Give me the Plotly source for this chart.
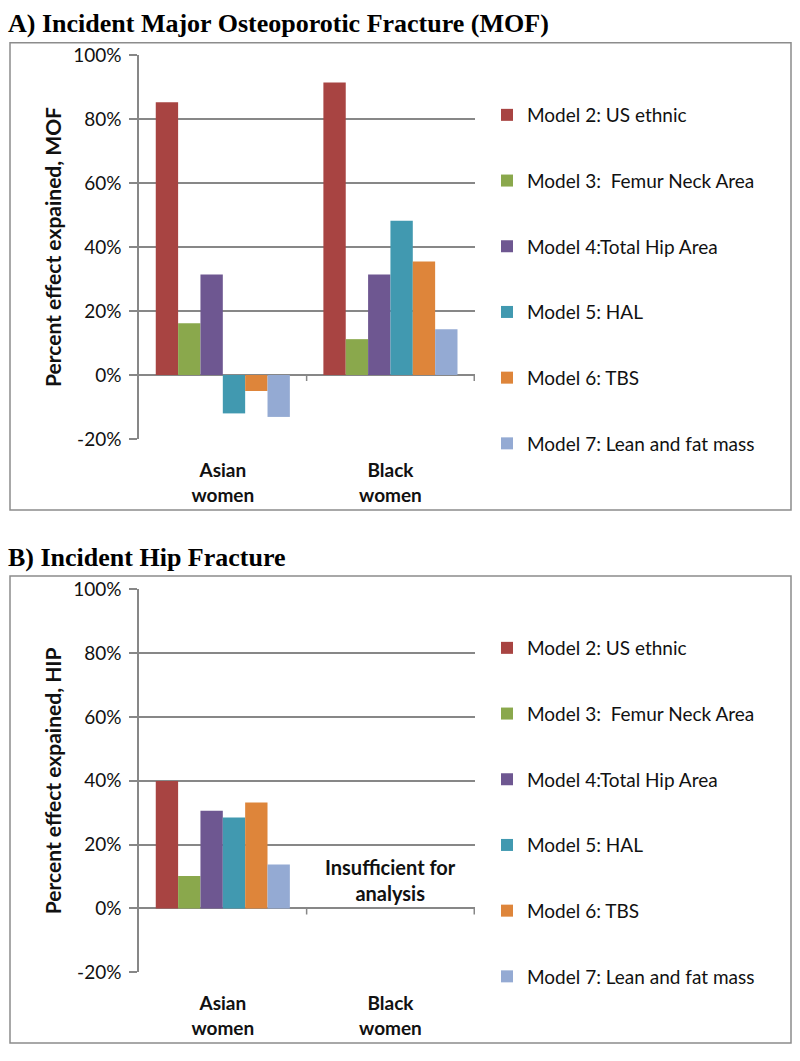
import plotly.graph_objects as go

# ---------------- data ----------------
categories = ["Asian women", "Black women"]
cat_labels = ["<b>Asian<br>women</b>", "<b>Black<br>women</b>"]
models = [
    "Model 2: US ethnic",
    "Model 3:  Femur Neck Area",
    "Model 4:Total Hip Area",
    "Model 5: HAL",
    "Model 6: TBS",
    "Model 7: Lean and fat mass",
]
colors = ["#A84442", "#8AA84C", "#6E5791", "#4199B0", "#DE853A", "#94AAD3"]

# Panel A: Incident MOF (percent effect explained)
mof_model2 = [85.2, 91.4]
mof_model3 = [16.2, 11.2]
mof_model4 = [31.4, 31.4]
mof_model5 = [-12.0, 48.2]
mof_model6 = [-5.0, 35.5]
mof_model7 = [-13.1, 14.3]

# Panel B: Incident hip fracture (Black women: insufficient for analysis)
hip_model2 = [39.9, None]
hip_model3 = [10.2, None]
hip_model4 = [30.6, None]
hip_model5 = [28.5, None]
hip_model6 = [33.2, None]
hip_model7 = [13.8, None]

mof_series = [mof_model2, mof_model3, mof_model4, mof_model5, mof_model6, mof_model7]
hip_series = [hip_model2, hip_model3, hip_model4, hip_model5, hip_model6, hip_model7]

y_ticks = [-20, 0, 20, 40, 60, 80, 100]
y_ticktext = [f"{v}%" for v in y_ticks]

# ---------------- layout helpers ----------------
W, H = 800, 1061
def fx(px):
    return px / W
def fy(py):
    return 1 - py / H

GRID = "#878787"
TXT = "#111111"
SANS = "Lato, 'Open Sans', sans-serif"
SERIF = "'Liberation Serif', 'Times New Roman', serif"

fig = go.Figure()

for i, (name, col) in enumerate(zip(models, colors)):
    fig.add_trace(go.Bar(
        x=categories, y=mof_series[i], name=name, marker_color=col,
        marker_line_width=0, xaxis="x", yaxis="y", legend="legend",
        legendgroup=f"a{i}",
    ))
for i, (name, col) in enumerate(zip(models, colors)):
    fig.add_trace(go.Bar(
        x=categories, y=hip_series[i], name=name, marker_color=col,
        marker_line_width=0, xaxis="x2", yaxis="y2", legend="legend2",
        legendgroup=f"b{i}",
    ))

def yaxis_cfg(domain, title):
    return dict(
        domain=domain, range=[-20, 100], tickvals=y_ticks, ticktext=y_ticktext,
        automargin=False,
        showgrid=True, gridcolor=GRID, gridwidth=1.5,
        zeroline=True, zerolinecolor=GRID, zerolinewidth=1.5,
        showline=True, linecolor=GRID, linewidth=1.5,
        ticks="outside", ticklen=8, tickwidth=1.5, tickcolor=GRID,
        tickfont=dict(family=SANS, size=19, color=TXT),
        ticklabelstandoff=4,
        title=dict(text=f"<b>{title}</b>", font=dict(family=SANS, size=21, color=TXT), standoff=6),
        fixedrange=True,
    )

def xaxis_cfg(anchor):
    return dict(
        domain=[fx(139), fx(475)], anchor=anchor, type="category",
        automargin=False,
        categoryorder="array", categoryarray=categories,
        tickvals=categories, ticktext=cat_labels,
        tickfont=dict(family=SANS, size=19, color=TXT),
        showgrid=False, zeroline=False, showline=False, ticks="",
        ticklabelstandoff=18, fixedrange=True,
    )

legend_common = dict(
    xanchor="left", yanchor="top", bgcolor="rgba(0,0,0,0)", borderwidth=0,
    font=dict(family=SANS, size=19, color=TXT), tracegroupgap=38,
    itemclick=False, itemdoubleclick=False,
)

fig.update_layout(
    width=W, height=H,
    margin=dict(l=0, r=0, t=0, b=0, autoexpand=False),
    paper_bgcolor="white", plot_bgcolor="white",
    barmode="group", bargap=0.2, bargroupgap=0,
    xaxis=xaxis_cfg("y"),
    yaxis=yaxis_cfg([fy(439), fy(55)], "Percent effect expained, MOF"),
    xaxis2=xaxis_cfg("y2"),
    yaxis2=yaxis_cfg([fy(972.3), fy(589.3)], "Percent effect expained, HIP"),
    legend=dict(x=fx(487), y=fy(96), **legend_common),
    legend2=dict(x=fx(487), y=fy(629), **legend_common),
    showlegend=True,
)

# panel frames
for top, bottom in [(42.7, 510), (576, 1043)]:
    fig.add_shape(type="rect", xref="paper", yref="paper",
                  x0=fx(10), x1=fx(791), y0=fy(bottom), y1=fy(top),
                  line=dict(color="#8C8C8C", width=1.5), layer="below")

# category-boundary tick marks on the 0% axis
for xr, yr in [("x", "y"), ("x2", "y2")]:
    for xb in [0.5, 1.5]:
        fig.add_shape(type="line", xref=xr, yref=yr, x0=xb, x1=xb,
                      ysizemode="pixel", yanchor=0, y0=0, y1=-6,
                      line=dict(color=GRID, width=1.5))

# panel titles
fig.add_annotation(text="<b>A) Incident Major Osteoporotic Fracture (MOF)</b>",
                   xref="paper", yref="paper", x=fx(6), y=fy(24),
                   xanchor="left", yanchor="middle", showarrow=False,
                   font=dict(family=SERIF, size=26, color="black"))
fig.add_annotation(text="<b>B) Incident Hip Fracture</b>",
                   xref="paper", yref="paper", x=fx(6), y=fy(557),
                   xanchor="left", yanchor="middle", showarrow=False,
                   font=dict(family=SERIF, size=26, color="black"))

# note in panel B
fig.add_annotation(text="<b>Insufficient for<br>analysis</b>",
                   xref="x2", yref="y2", x="Black women", y=9,
                   xanchor="center", yanchor="middle", showarrow=False,
                   font=dict(family=SANS, size=20, color=TXT))

fig.write_html(
    "out.html",
    config={"displayModeBar": False, "responsive": False},
    post_script="document.body.style.margin='0';document.body.style.padding='0';"
                "document.documentElement.style.overflow='hidden';",
)
